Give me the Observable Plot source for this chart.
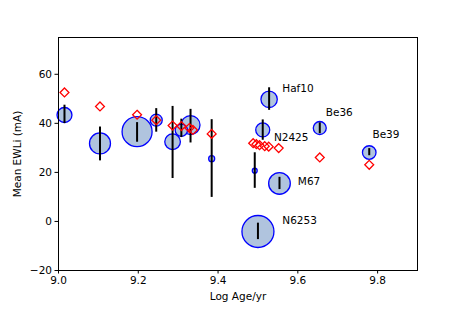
<!DOCTYPE html>
<html>
<head>
<meta charset="utf-8">
<script src="https://cdn.jsdelivr.net/npm/d3@7"></script>
<script src="https://cdn.jsdelivr.net/npm/@observablehq/plot@0.6"></script>
<style>
  html, body { margin: 0; padding: 0; background: #fff; }
  svg { display: block; }
</style>
</head>
<body>
<div id="chart"></div>
<script>
// Clusters (circles with error bars)
const clusterAge = [9.015, 9.104, 9.197, 9.245, 9.286, 9.308, 9.331, 9.384, 9.492, 9.512, 9.528, 9.655, 9.779, 9.554, 9.500];
const clusterEW  = [43.4, 31.8, 36.6, 41.3, 32.5, 37.2, 39.3, 25.6, 20.7, 37.3, 49.8, 38.1, 28.1, 15.5, -4.1];
const clusterLo  = [39.9, 24.7, 32.3, 36.4, 17.5, 34.2, 32.0, 9.8, 13.5, 33.1, 45.3, 35.8, 26.8, 13.0, -7.4];
const clusterHi  = [47.4, 38.5, 40.3, 46.0, 46.9, 41.7, 45.7, 41.5, 28.0, 41.4, 54.5, 40.2, 29.7, 18.0, -0.7];
const clusterN   = [56, 110, 225, 36, 61, 38, 90, 9, 6, 49, 67, 42, 46, 117, 256];

// Model predictions (red diamonds)
const modelAge = [9.015, 9.104, 9.197, 9.245, 9.286, 9.308, 9.328, 9.337, 9.384, 9.488, 9.496, 9.504, 9.517, 9.527, 9.552, 9.655, 9.779];
const modelEW  = [52.6, 46.9, 43.5, 41.3, 39.1, 38.9, 38.1, 37.3, 35.7, 31.9, 31.5, 31.1, 30.7, 30.5, 29.9, 26.1, 23.1];

// Annotations
const labelText = ["Haf10", "N2425", "Be36", "Be39", "M67", "N6253"];
const labelAge  = [9.561, 9.540, 9.670, 9.787, 9.600, 9.561];
const labelEW   = [54.2, 34.2, 44.2, 35.3, 16.3, 0.4];

const xTicks = [9.0, 9.2, 9.4, 9.6, 9.8];
const yTicks = [-20, 0, 20, 40, 60];

const clusters = clusterAge.map((a, i) => ({age: a, ew: clusterEW[i], lo: clusterLo[i], hi: clusterHi[i], n: clusterN[i]}));
const models = modelAge.map((a, i) => ({age: a, ew: modelEW[i]}));
const labels = labelText.map((t, i) => ({text: t, age: labelAge[i], ew: labelEW[i]}));

const chart = Plot.plot({
  width: 463,
  height: 309,
  marginLeft: 58,
  marginRight: 46,
  marginTop: 37,
  marginBottom: 39,
  style: {fontFamily: "DejaVu Sans", fontSize: "10.5px", color: "#000", background: "#fff"},
  x: {domain: [9.0, 9.9]},
  y: {domain: [-20, 75]},
  r: {type: "sqrt", domain: [0, 256], range: [0, 16]},
  marks: [
    Plot.axisX({ticks: xTicks, tickFormat: ".1f", tickSize: 3.5, tickPadding: 3, label: "Log Age/yr", labelAnchor: "center", labelArrow: "none", labelOffset: 29, stroke: "#000"}),
    Plot.axisY({ticks: yTicks, tickSize: 3.5, tickPadding: 3, label: "Mean EWLi (mA)", labelAnchor: "center", labelArrow: "none", labelOffset: 45, stroke: "#000"}),
    Plot.dot(clusters, {x: "age", y: "ew", r: "n", fill: "lightsteelblue", stroke: "blue", strokeWidth: 1.3}),
    Plot.ruleX(clusters, {x: "age", y1: "lo", y2: "hi", stroke: "black", strokeWidth: 2}),
    Plot.dot(models, {x: "age", y: "ew", symbol: "diamond2", r: 4, stroke: "red", fill: "none", strokeWidth: 1.3}),
    Plot.text(labels, {x: "age", y: "ew", text: "text", textAnchor: "start", fill: "black", fontSize: 10.5}),
    Plot.frame({stroke: "#000", strokeWidth: 1})
  ]
});
document.getElementById("chart").appendChild(chart);
</script>
</body>
</html>
